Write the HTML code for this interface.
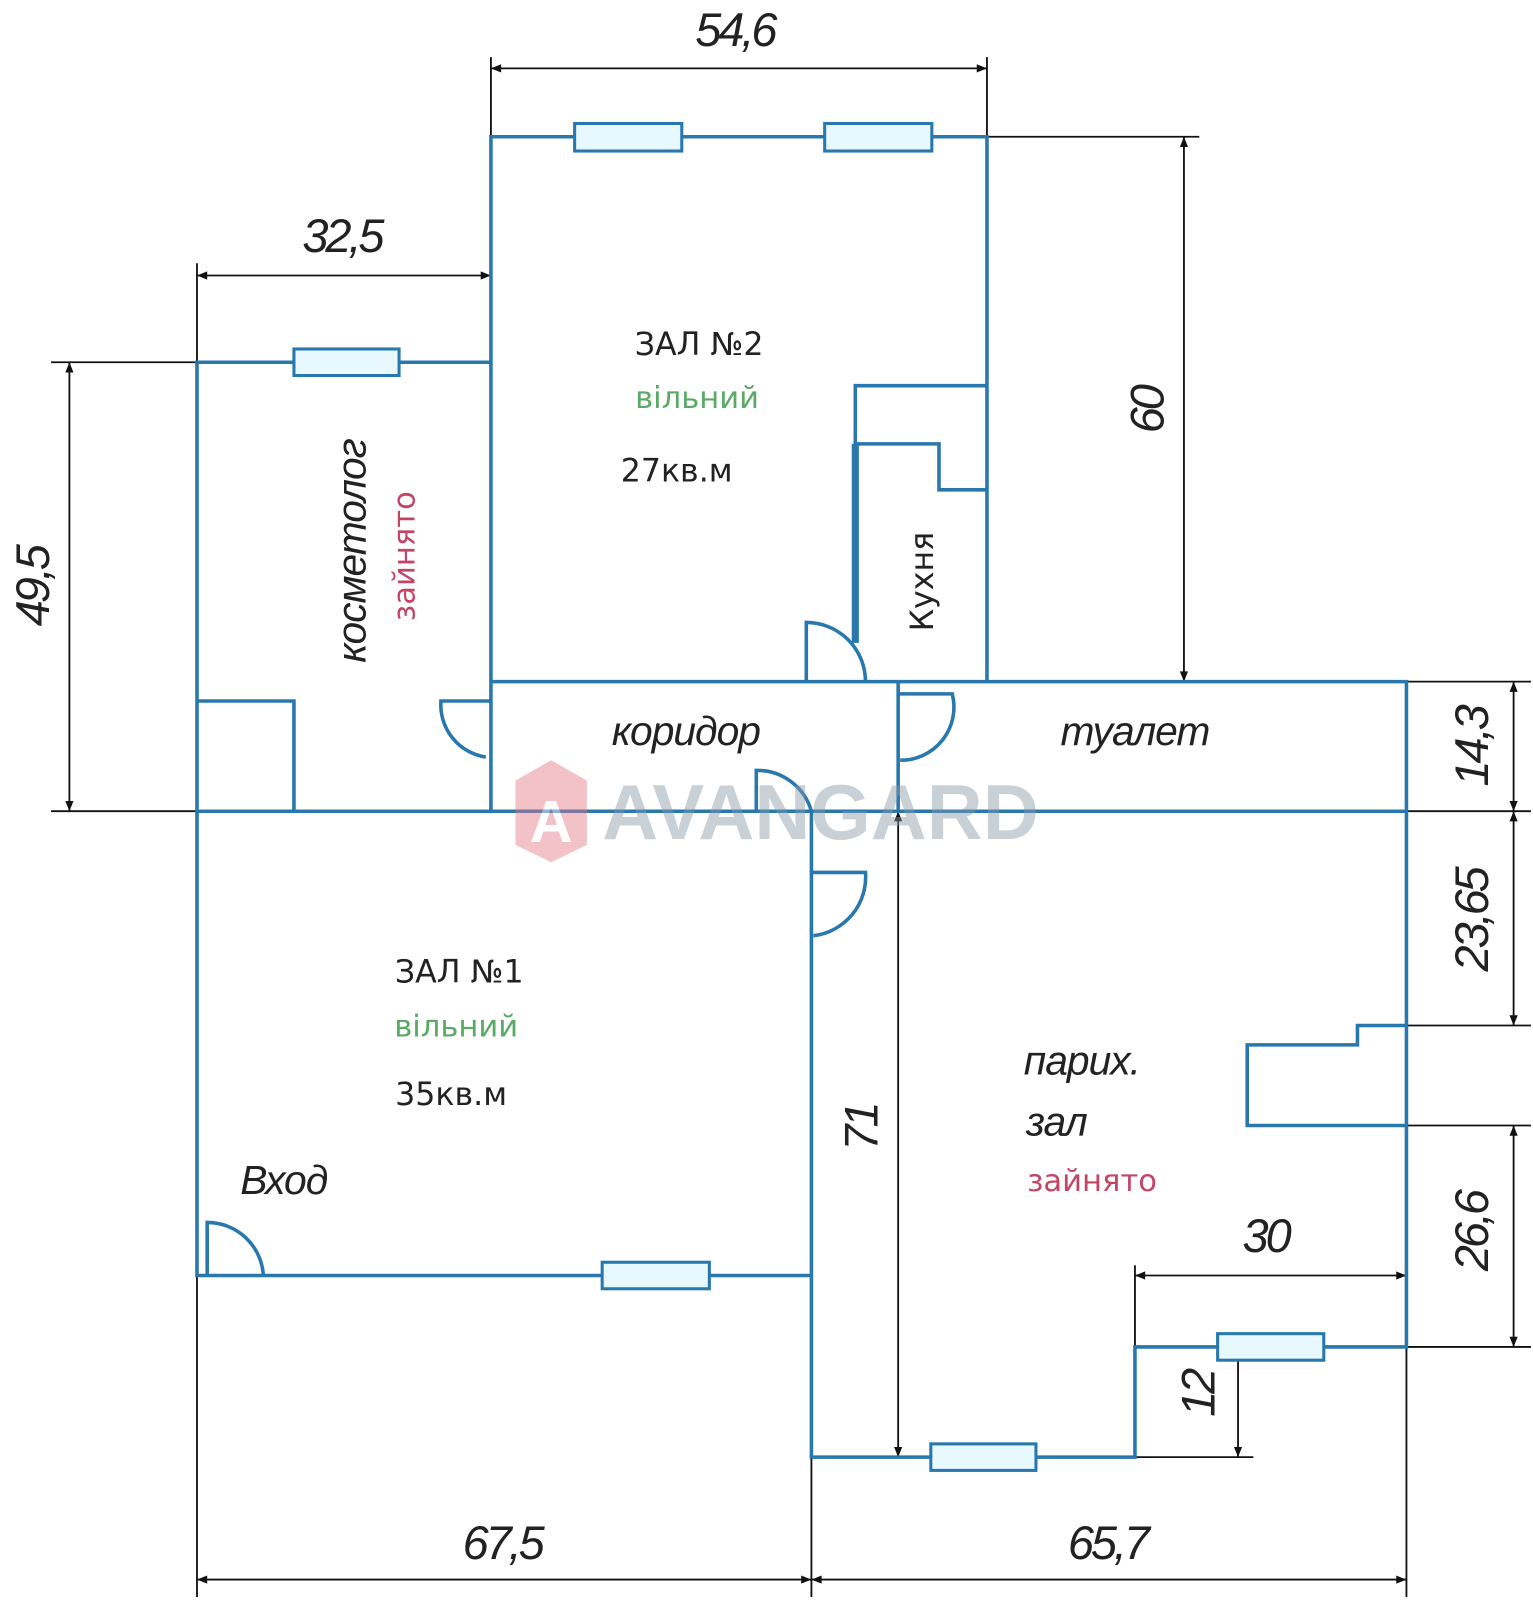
<!DOCTYPE html>
<html><head><meta charset="utf-8"><style>
html,body{margin:0;padding:0;background:#fff}
svg{display:block}
.w{stroke:#2878ad;stroke-width:3.5;fill:none}
.win{stroke:#2878ad;stroke-width:3;fill:#e8f8ff}
.d{stroke:#111;stroke-width:1.8;fill:none}
.dm{font-family:"Liberation Sans",sans-serif;font-style:italic;font-size:46px;fill:#222;letter-spacing:-3px}
.lb{font-family:"Liberation Sans",sans-serif;font-style:italic;font-size:40px;fill:#222;letter-spacing:-1px}
.t{font-family:"DejaVu Sans","Liberation Sans",sans-serif;font-size:31px;fill:#222}
.g{font-family:"DejaVu Sans","Liberation Sans",sans-serif;font-size:30px;fill:#5aaa66}
.r{font-family:"DejaVu Sans","Liberation Sans",sans-serif;font-size:30px;fill:#c44466}
</style></head><body>
<svg width="1533" height="1600" viewBox="0 0 1502 1568" preserveAspectRatio="none" xmlns="http://www.w3.org/2000/svg">
<defs>
<marker id="a" viewBox="0 0 10 10" refX="10" refY="5" markerWidth="22" markerHeight="10" orient="auto-start-reverse" markerUnits="userSpaceOnUse"><path d="M0,1 L10,5 L0,9 z" fill="#111"/></marker>
</defs>
<g class="d">
<line x1="481" y1="56" x2="481" y2="134"/><line x1="967" y1="56" x2="967" y2="134"/>
<line x1="193" y1="258" x2="193" y2="355"/><line x1="481" y1="258" x2="481" y2="355"/>
<line x1="50" y1="355" x2="193" y2="355"/><line x1="50" y1="795" x2="193" y2="795"/>
<line x1="967" y1="134" x2="1175" y2="134"/><line x1="967" y1="668" x2="1175" y2="668"/>
<line x1="1378" y1="668" x2="1500" y2="668"/><line x1="1378" y1="795" x2="1500" y2="795"/>
<line x1="1378" y1="1005" x2="1500" y2="1005"/><line x1="1378" y1="1103" x2="1500" y2="1103"/>
<line x1="1378" y1="1320" x2="1500" y2="1320"/>
<line x1="1112" y1="1240" x2="1112" y2="1320"/><line x1="1378" y1="1240" x2="1378" y2="1320"/>
<line x1="1112" y1="1428" x2="1228" y2="1428"/>
<line x1="193" y1="1250" x2="193" y2="1565"/><line x1="795" y1="1428" x2="795" y2="1565"/><line x1="1378" y1="1320" x2="1378" y2="1565"/>
<line x1="481" y1="67" x2="967" y2="67" marker-start="url(#a)" marker-end="url(#a)"/>
<line x1="193" y1="270" x2="481" y2="270" marker-start="url(#a)" marker-end="url(#a)"/>
<line x1="68" y1="355" x2="68" y2="795" marker-start="url(#a)" marker-end="url(#a)"/>
<line x1="1160" y1="134" x2="1160" y2="668" marker-start="url(#a)" marker-end="url(#a)"/>
<line x1="1483" y1="668" x2="1483" y2="795" marker-start="url(#a)" marker-end="url(#a)"/>
<line x1="1483" y1="795" x2="1483" y2="1005" marker-start="url(#a)" marker-end="url(#a)"/>
<line x1="1483" y1="1103" x2="1483" y2="1320" marker-start="url(#a)" marker-end="url(#a)"/>
<line x1="1112" y1="1250" x2="1378" y2="1250" marker-start="url(#a)" marker-end="url(#a)"/>
<line x1="1213" y1="1320" x2="1213" y2="1428" marker-start="url(#a)" marker-end="url(#a)"/>
<line x1="880" y1="795" x2="880" y2="1428" marker-start="url(#a)" marker-end="url(#a)"/>
<line x1="193" y1="1548" x2="795" y2="1548" marker-start="url(#a)" marker-end="url(#a)"/>
<line x1="795" y1="1548" x2="1378" y2="1548" marker-start="url(#a)" marker-end="url(#a)"/>
</g>
<g class="w">
<polyline points="481,795 481,134 967,134 967,668"/>
<polyline points="481,355 193,355 193,1250 795,1250"/>
<polyline points="193,687 288,687 288,795"/>
<line x1="193" y1="795" x2="1378" y2="795"/>
<polyline points="481,668 1378,668 1378,1320 1112,1320 1112,1428 795,1428 795,795"/>
<line x1="880" y1="668" x2="880" y2="795"/>
<polyline points="967,378 838,378 838,435 920,435 920,480 967,480"/>
<line x1="838" y1="435" x2="838" y2="630" style="stroke-width:7"/>
<polyline points="1378,1005 1330,1005 1330,1024 1222,1024 1222,1103 1378,1103"/>
<path d="M790,668 V610 A58,58 0 0 1 848,668"/>
<path d="M481,687 H432 A52,52 0 0 0 476,742"/>
<path d="M880,680 H933 A52,52 0 0 1 882,745"/>
<path d="M741,795 V755 A55,55 0 0 1 795,795"/>
<path d="M795,855 H848 A58,58 0 0 1 797,917"/>
<path d="M203,1250 V1198 A55,55 0 0 1 258,1250"/>
</g>
<g class="win">
<rect x="563" y="121" width="105" height="27"/><rect x="808" y="121" width="105" height="27"/>
<rect x="288" y="342" width="103" height="26"/>
<rect x="590" y="1237" width="105" height="26"/>
<rect x="912" y="1415" width="103" height="26"/>
<rect x="1193" y="1307" width="104" height="26"/>
</g>
<g opacity="0.45">
<path d="M540,745 L575,765 L575,828 L540,845 L505,828 L505,765 Z" fill="#e57a86"/>
<text x="540" y="825" text-anchor="middle" font-family="Liberation Sans" font-weight="bold" font-size="58" fill="#fff">A</text>
<text x="590" y="822" font-family="Liberation Sans,sans-serif" font-weight="bold" font-size="76" fill="#8a9aa5">AVANGARD</text>
</g>
<text class="dm" x="720" y="45" text-anchor="middle">54,6</text>
<text class="dm" x="335" y="247" text-anchor="middle">32,5</text>
<text class="dm" transform="translate(48,575) rotate(-90)" text-anchor="middle">49,5</text>
<text class="dm" transform="translate(1140,402) rotate(-90)" text-anchor="middle">60</text>
<text class="dm" transform="translate(1458,732) rotate(-90)" text-anchor="middle">14,3</text>
<text class="dm" transform="translate(1458,902) rotate(-90)" text-anchor="middle">23,65</text>
<text class="dm" transform="translate(1458,1207) rotate(-90)" text-anchor="middle">26,6</text>
<text class="dm" x="1240" y="1227" text-anchor="middle">30</text>
<text class="dm" transform="translate(1190,1366) rotate(-90)" text-anchor="middle">12</text>
<text class="dm" transform="translate(860,1105) rotate(-90)" text-anchor="middle">71</text>
<text class="dm" x="492" y="1528" text-anchor="middle">67,5</text>
<text class="dm" x="1085" y="1528" text-anchor="middle">65,7</text>
<text class="t" x="685" y="348" text-anchor="middle">ЗАЛ №2</text>
<text class="g" x="683" y="400" text-anchor="middle">вільний</text>
<text class="t" x="663" y="472" text-anchor="middle">27кв.м</text>
<text class="lb" transform="translate(358,540) rotate(-90)" text-anchor="middle">косметолог</text>
<text class="r" transform="translate(406,545) rotate(-90)" text-anchor="middle">зайнято</text>
<text class="t" transform="translate(914,570) rotate(-90)" text-anchor="middle">Кухня</text>
<text class="lb" x="672" y="730" text-anchor="middle">коридор</text>
<text class="lb" x="1112" y="730" text-anchor="middle">туалет</text>
<text class="t" x="450" y="963" text-anchor="middle">ЗАЛ №1</text>
<text class="g" x="447" y="1016" text-anchor="middle">вільний</text>
<text class="t" x="442" y="1083" text-anchor="middle">35кв.м</text>
<text class="lb" x="278" y="1170" text-anchor="middle">Вход</text>
<text class="lb" x="1060" y="1053" text-anchor="middle">парих.</text>
<text class="lb" x="1035" y="1113" text-anchor="middle">зал</text>
<text class="r" x="1070" y="1167" text-anchor="middle">зайнято</text>
</svg>
</body></html>
